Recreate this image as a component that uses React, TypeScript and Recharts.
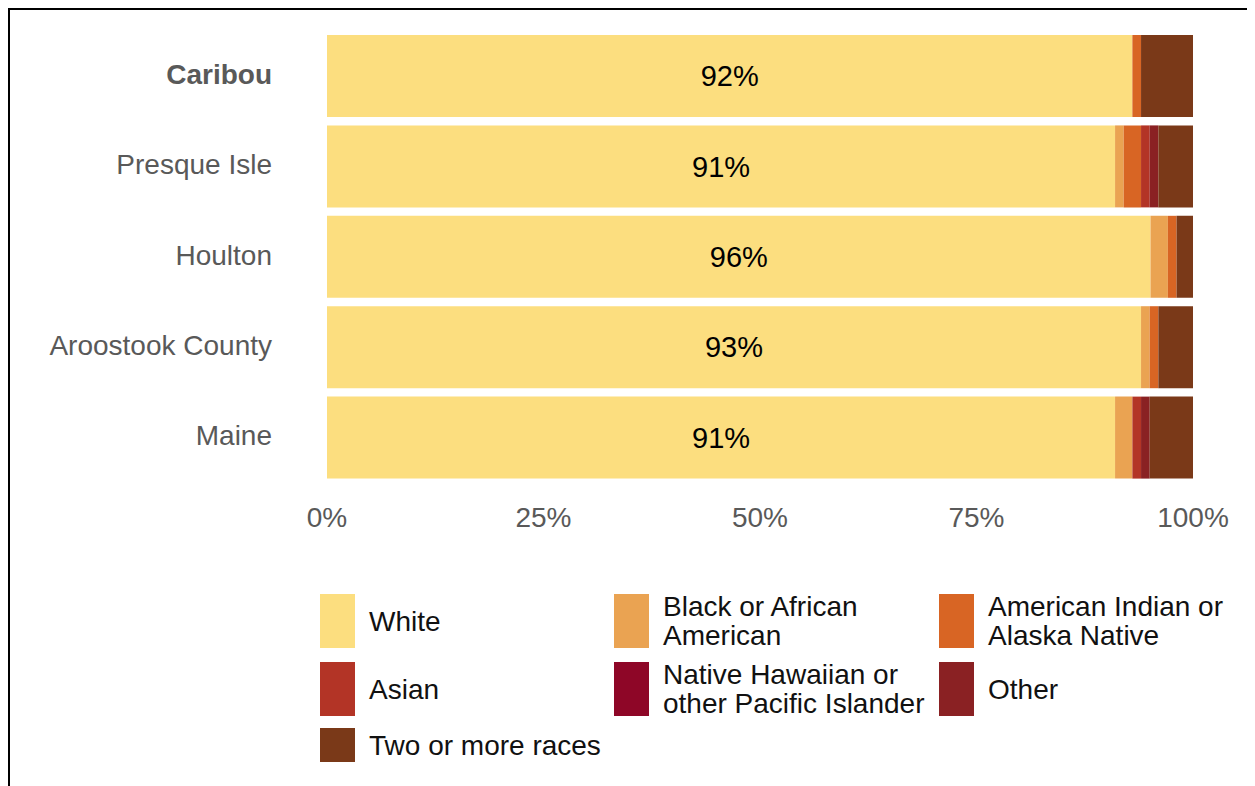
import React from 'react';
import { BarChart, Bar, XAxis, YAxis, LabelList } from 'recharts';

// percent of population by race
const places = ['Caribou', 'Presque Isle', 'Houlton', 'Aroostook County', 'Maine'];
const white = [93.0, 91.0, 95.1, 94.0, 91.0];
const black = [0, 1.0, 2.0, 1.0, 2.0];
const aian = [1.0, 2.0, 1.0, 1.0, 0];
const asian = [0, 1.0, 0, 0, 1.0];
const nhpi = [0, 0, 0, 0, 0];
const other = [0, 1.0, 0, 0, 1.0];
const twoPlus = [6.0, 4.0, 1.9, 4.0, 5.0];
const whiteLabels = ['92%', '91%', '96%', '93%', '91%'];
const xTicks = [0, 25, 50, 75, 100];

const SERIES = [
  { key: 'white', name: 'White', color: '#FCDE7F' },
  { key: 'black', name: 'Black or African American', color: '#EAA352' },
  { key: 'aian', name: 'American Indian or Alaska Native', color: '#D86524' },
  { key: 'asian', name: 'Asian', color: '#B33426' },
  { key: 'nhpi', name: 'Native Hawaiian or other Pacific Islander', color: '#8E0627' },
  { key: 'other', name: 'Other', color: '#8A2123' },
  { key: 'twoPlus', name: 'Two or more races', color: '#7A3918' },
];

const LEGEND_ROWS = [
  [
    { label: ['White'], color: '#FCDE7F' },
    { label: ['Black or African', 'American'], color: '#EAA352' },
    { label: ['American Indian or', 'Alaska Native'], color: '#D86524' },
  ],
  [
    { label: ['Asian'], color: '#B33426' },
    { label: ['Native Hawaiian or', 'other Pacific Islander'], color: '#8E0627' },
    { label: ['Other'], color: '#8A2123' },
  ],
  [{ label: ['Two or more races'], color: '#7A3918' }],
];

const data = places.map((name, i) => ({
  name,
  white: white[i],
  black: black[i],
  aian: aian[i],
  asian: asian[i],
  nhpi: nhpi[i],
  other: other[i],
  twoPlus: twoPlus[i],
  label: whiteLabels[i],
}));

const FONT = '"Liberation Sans", Arial, sans-serif';

function PlaceTick(props: any) {
  const { x, y, payload } = props;
  const bold = payload.value === 'Caribou';
  return (
    <text
      x={x}
      y={y - 2}
      textAnchor="end"
      dominantBaseline="central"
      fontFamily={FONT}
      fontSize={28}
      fontWeight={bold ? 700 : 400}
      fill="#595959"
    >
      {payload.value}
    </text>
  );
}

export default function App() {
  return (
    <div
      style={{
        position: 'relative',
        width: 1245,
        height: 776,
        borderTop: '2px solid #000',
        borderLeft: '2px solid #000',
        fontFamily: FONT,
        overflow: 'hidden',
      }}
    >
      <BarChart
        width={1245}
        height={530}
        data={data}
        layout="vertical"
        margin={{ top: 21, right: 62, bottom: 7, left: 0 }}
        barSize={82}
      >
        <XAxis
          type="number"
          domain={[0, 100]}
          ticks={xTicks}
          tickFormatter={(v: number) => `${v}%`}
          axisLine={false}
          tickLine={false}
          tickSize={0}
          tickMargin={24}
          height={50}
          interval={0}
          tick={{ fill: '#595959', fontSize: 28, fontFamily: FONT }}
        />
        <YAxis
          type="category"
          dataKey="name"
          width={317}
          axisLine={false}
          tickLine={false}
          tickSize={0}
          tickMargin={55}
          tick={<PlaceTick />}
        />
        {SERIES.map((s) => (
          <Bar key={s.key} dataKey={s.key} name={s.name} stackId="a" fill={s.color} isAnimationActive={false}>
            {s.key === 'white' && (
              <LabelList
                dataKey="label"
                position="center"
                fill="#000"
                fontSize={29}
                fontFamily={FONT}
              />
            )}
          </Bar>
        ))}
      </BarChart>
      <div style={{ position: 'absolute', left: 310, top: 582 }}>
        {LEGEND_ROWS.map((row, ri) => (
          <div key={ri} style={{ display: 'flex', marginBottom: 10 }}>
            {row.map((item, ci) => (
              <div
                key={ci}
                style={{ display: 'flex', alignItems: 'center', width: ci === 0 ? 294 : 325 }}
              >
                <div
                  style={{
                    width: 35,
                    height: ri === 2 ? 34 : 54,
                    background: item.color,
                    flexShrink: 0,
                  }}
                />
                <div
                  style={{
                    marginLeft: 14,
                    fontSize: 28,
                    lineHeight: '29px',
                    color: '#111',
                    whiteSpace: 'nowrap',
                  }}
                >
                  {item.label.map((l, li) => (
                    <div key={li}>{l}</div>
                  ))}
                </div>
              </div>
            ))}
          </div>
        ))}
      </div>
    </div>
  );
}
